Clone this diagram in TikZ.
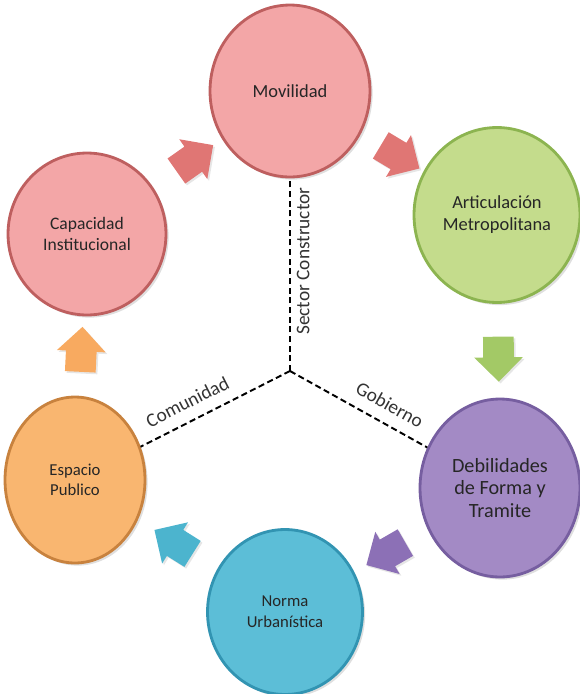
\documentclass[tikz,border=0pt]{standalone}
\usepackage{fontspec}
\setmainfont{Carlito}
\usetikzlibrary{shapes.geometric, shapes.arrows, shadows}

\definecolor{rojo}{RGB}{243,166,167}
\definecolor{rojoborde}{RGB}{190,95,95}
\definecolor{rojoflecha}{RGB}{224,118,116}
\definecolor{verde}{RGB}{196,220,140}
\definecolor{verdeborde}{RGB}{140,180,80}
\definecolor{verdeflecha}{RGB}{163,201,102}
\definecolor{morado}{RGB}{163,138,197}
\definecolor{moradoborde}{RGB}{118,94,160}
\definecolor{moradoflecha}{RGB}{140,112,182}
\definecolor{azul}{RGB}{92,190,215}
\definecolor{azulborde}{RGB}{50,148,178}
\definecolor{azulflecha}{RGB}{76,180,206}
\definecolor{naranja}{RGB}{249,182,112}
\definecolor{naranjaborde}{RGB}{200,130,62}
\definecolor{naranjaflecha}{RGB}{248,170,96}

\newcommand{\flecha}[3]{\path (#1.center) -- node[sloped, allow upside down, bloque, fill=#3] {} (#2.center);}

\begin{document}
\begin{tikzpicture}[x=0.02cm, y=-0.02cm,
  circulo/.style={ellipse, line width=1.6pt, inner sep=0pt, align=center, text=black!85, drop shadow={opacity=0.25, shadow xshift=1.5pt, shadow yshift=-1.5pt}},
  bloque/.style={single arrow, single arrow head extend=0.18cm, inner xsep=0pt, inner ysep=0.3cm, minimum height=0.9cm, drop shadow={opacity=0.2, shadow xshift=1pt, shadow yshift=-1pt}},
  linea/.style={dashed, dash pattern=on 3.5pt off 2pt, line width=1.1pt},
  etiqueta/.style={font=\fontsize{11}{13}\selectfont, text=black!80}]
\useasboundingbox (0,0) rectangle (579,694);
% circulos
\node[circulo, fill=rojo, draw=rojoborde, minimum width=3.2cm, minimum height=3.44cm, font=\fontsize{10.5}{12.5}\selectfont] (movilidad) at (290,91) {Movilidad};
\node[circulo, fill=verde, draw=verdeborde, minimum width=3.32cm, minimum height=3.5cm, font=\fontsize{10.5}{12.5}\selectfont] (articulacion) at (497,215) {Articulación\\Metropolitana};
\node[circulo, fill=morado, draw=moradoborde, minimum width=3.2cm, minimum height=3.56cm, font=\fontsize{11.5}{13}\selectfont] (debilidades) at (500,488) {Debilidades\\de Forma y\\Tramite};
\node[circulo, fill=azul, draw=azulborde, minimum width=3.1cm, minimum height=3.3cm, font=\fontsize{9.5}{12}\selectfont] (norma) at (285,612) {Norma\\Urbanística};
\node[circulo, fill=naranja, draw=naranjaborde, minimum width=2.8cm, minimum height=3.32cm, font=\fontsize{9.5}{11.5}\selectfont] (espacio) at (75,480) {Espacio\\Publico};
\node[circulo, fill=rojo, draw=rojoborde, minimum width=3.16cm, minimum height=3.24cm, font=\fontsize{10}{11.5}\selectfont] (capacidad) at (87,234) {Capacidad\\Institucional};
% flechas
\flecha{capacidad}{movilidad}{rojoflecha}
\flecha{movilidad}{articulacion}{rojoflecha}
\flecha{articulacion}{debilidades}{verdeflecha}
\flecha{debilidades}{norma}{moradoflecha}
\flecha{norma}{espacio}{azulflecha}
\flecha{espacio}{capacidad}{naranjaflecha}
% lineas punteadas
\coordinate (centro) at (290,371);
\draw[linea] (centro) -- node[pos=0.57, sloped, below, etiqueta] {Sector Constructor} (movilidad);
\draw[linea] (centro) -- node[pos=0.63, sloped, above=3pt, etiqueta] {Comunidad} (espacio);
\draw[linea] (centro) -- node[pos=0.66, sloped, above=3pt, etiqueta] {Gobierno} (debilidades);
\end{tikzpicture}
\end{document}
